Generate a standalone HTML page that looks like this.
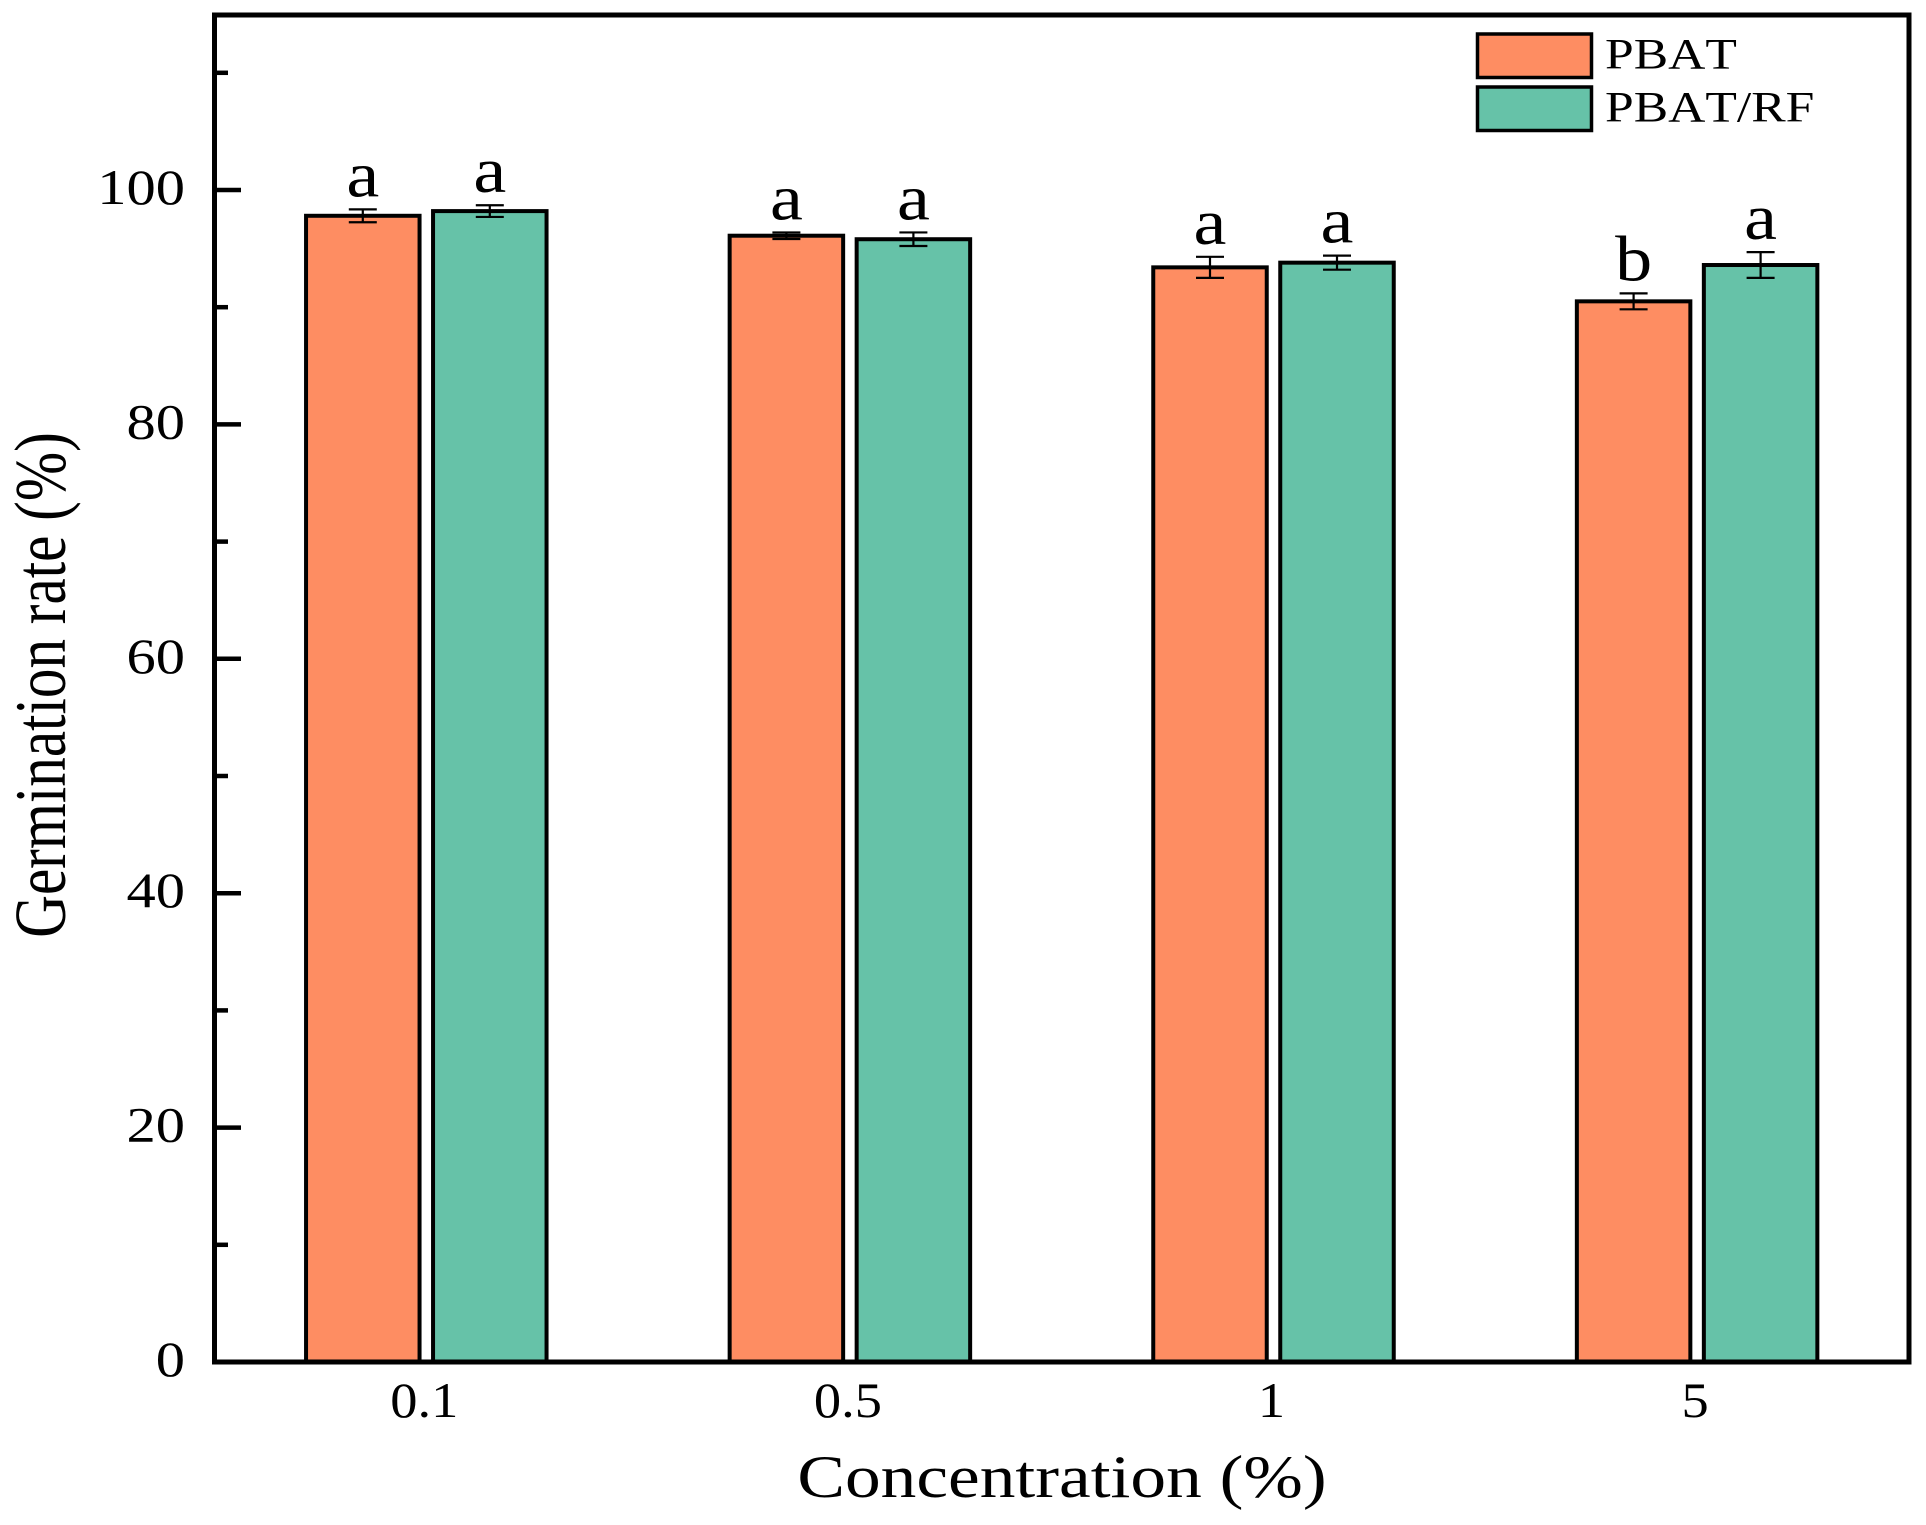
<!DOCTYPE html>
<html lang="en">
<head>
<meta charset="utf-8">
<title>Germination rate chart</title>
<style>
html,body{margin:0;padding:0;background:#fff;width:1926px;height:1525px;overflow:hidden}
svg{display:block}
text{font-family:"Liberation Serif","Times New Roman",serif;fill:#000}
.nokern{font-kerning:none}
</style>
</head>
<body>
<svg id="chart" xmlns="http://www.w3.org/2000/svg" width="1926" height="1525" viewBox="0 0 1926 1525">
  <g id="bars"></g>
  <g id="ticks"></g>
  <rect x="214.5" y="15" width="1694.5" height="1347" fill="none" stroke="#000" stroke-width="5"></rect>
  <g id="labels"></g>
  <g id="letters"></g>
  <text transform="translate(1062,1497) scale(1.19,1)" text-anchor="middle" font-size="60">Concentration (%)</text>
  <text transform="translate(65,685) rotate(-90) scale(0.81,1)" text-anchor="middle" font-size="73">Germination rate (%)</text>
  <g>
    <rect x="1477.5" y="34" width="114" height="43.5" fill="#FE8D62" stroke="#000" stroke-width="3.5"></rect>
    <text class="nokern" transform="translate(1605,68.5) scale(1.2,1)" font-size="43">PBAT</text>
    <rect x="1477.5" y="87" width="114" height="43.5" fill="#66C2A8" stroke="#000" stroke-width="3.5"></rect>
    <text class="nokern" transform="translate(1605,121.5) scale(1.2,1)" font-size="43">PBAT/RF</text>
  </g>
</svg>
<script>
const categories = ['0.1', '0.5', '1', '5'];
const pbatValues = [97.8, 96.1, 93.4, 90.5];
const pbatErrors = [0.55, 0.28, 0.9, 0.68];
const pbatLetters = ['a', 'a', 'a', 'b'];
const rfValues = [98.2, 95.8, 93.8, 93.6];
const rfErrors = [0.5, 0.58, 0.6, 1.1];
const rfLetters = ['a', 'a', 'a', 'a'];
const yTickValues = [0, 10, 20, 30, 40, 50, 60, 70, 80, 90, 100, 110];
const yLabelValues = [0, 20, 40, 60, 80, 100];

const NS = 'http://www.w3.org/2000/svg';
function yScale(v) { return 1362 - v * 11.72; }
function xScale(i) { return 214.5 + (i + 0.5) * 423.6; }

const barsG = document.getElementById('bars');
const ticksG = document.getElementById('ticks');
const labelsG = document.getElementById('labels');
const lettersG = document.getElementById('letters');

function drawSeries(values, errors, letters, offset, color, key) {
  values.forEach(function (v, i) {
    const cx = xScale(i) + offset;
    const top = yScale(v);
    const bar = document.createElementNS(NS, 'rect');
    
    
    bar.setAttribute('x', cx - 56.75);
    bar.setAttribute('y', top);
    bar.setAttribute('width', 113.5);
    bar.setAttribute('height', yScale(0) - top);
    bar.setAttribute('fill', color);
    bar.setAttribute('stroke', '#000');
    bar.setAttribute('stroke-width', 4);
    barsG.appendChild(bar);

    const hi = yScale(v + errors[i]);
    const lo = yScale(v - errors[i]);
    const err = document.createElementNS(NS, 'path');
    
    
    err.setAttribute('d', 'M' + (cx - 14) + ' ' + hi + 'H' + (cx + 14) + 'M' + cx + ' ' + hi + 'V' + lo + 'M' + (cx - 14) + ' ' + lo + 'H' + (cx + 14));
    err.setAttribute('fill', 'none');
    err.setAttribute('stroke', '#000');
    err.setAttribute('stroke-width', 2.2);
    barsG.appendChild(err);

    const letter = document.createElementNS(NS, 'text');
    
    
    letter.setAttribute('transform', 'translate(' + cx + ',' + (hi - 13) + ') scale(1.14,1)');
    letter.setAttribute('text-anchor', 'middle');
    letter.setAttribute('font-size', 65);
    letter.textContent = letters[i];
    lettersG.appendChild(letter);
  });
}

drawSeries(pbatValues, pbatErrors, pbatLetters, -63.5, '#FE8D62', 'pbat');
drawSeries(rfValues, rfErrors, rfLetters, 63.5, '#66C2A8', 'pbat-rf');

yTickValues.forEach(function (t) {
  const isMajor = yLabelValues.indexOf(t) !== -1;
  const tick = document.createElementNS(NS, 'line');
  
  
  tick.setAttribute('x1', 214.5);
  tick.setAttribute('x2', isMajor ? 241 : 228);
  tick.setAttribute('y1', yScale(t));
  tick.setAttribute('y2', yScale(t));
  tick.setAttribute('stroke', '#000');
  tick.setAttribute('stroke-width', 4.5);
  ticksG.appendChild(tick);
});

yLabelValues.forEach(function (t) {
  const label = document.createElementNS(NS, 'text');
  
  
  label.setAttribute('transform', 'translate(185,' + (yScale(t) + 14) + ') scale(1.17,1)');
  label.setAttribute('text-anchor', 'end');
  label.setAttribute('font-size', 50);
  label.textContent = String(t);
  labelsG.appendChild(label);
});

categories.forEach(function (c, i) {
  const label = document.createElementNS(NS, 'text');
  
  
  label.setAttribute('transform', 'translate(' + (xScale(i) - 2) + ',1417) scale(1.09,1)');
  label.setAttribute('text-anchor', 'middle');
  label.setAttribute('font-size', 50);
  label.textContent = c;
  labelsG.appendChild(label);
});
</script>
</body>
</html>
